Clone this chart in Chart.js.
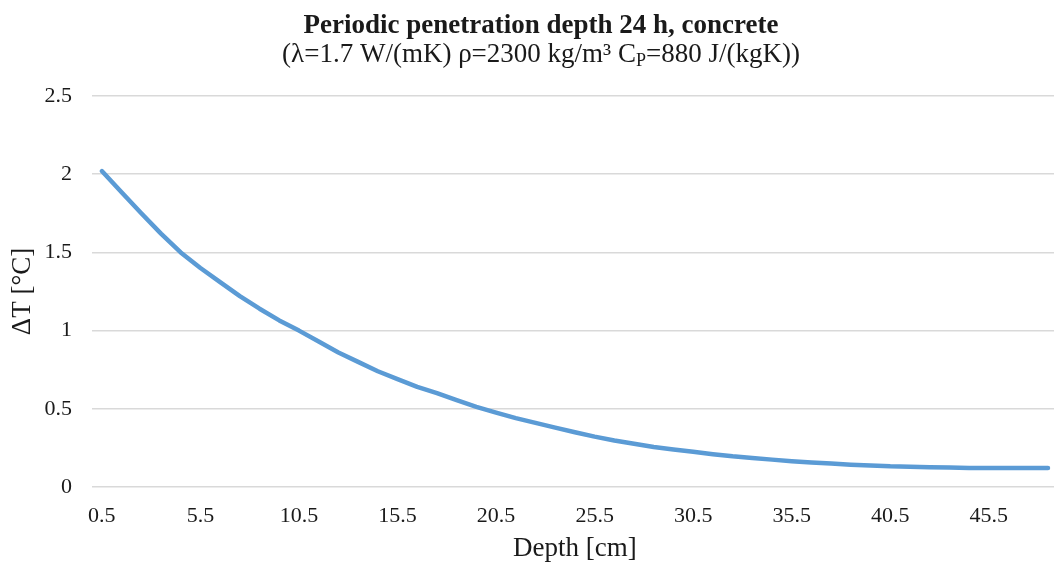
<!DOCTYPE html>
<html>
<head>
<meta charset="utf-8">
<script src="https://cdn.jsdelivr.net/npm/chart.js@4/dist/chart.umd.min.js"></script>
<style>
  html, body { margin: 0; padding: 0; background: #ffffff; overflow: hidden; }
  #wrap { width: 1064px; height: 566px; }
</style>
</head>
<body>
<div id="wrap"><canvas id="chart" width="1064" height="566"></canvas></div>
<script>
// Depth of each sample point [cm]
const depths = [];
for (let d = 0.5; d <= 48.5; d += 1) depths.push(d);

// Temperature amplitude at each depth [°C]
const deltaT = [
  2.02, 1.885, 1.75, 1.62, 1.50, 1.40, 1.31, 1.22, 1.14, 1.065,
  1.00, 0.93, 0.86, 0.80, 0.74, 0.69, 0.64, 0.60, 0.555, 0.512,
  0.475, 0.44, 0.41, 0.38, 0.35, 0.322, 0.297, 0.276, 0.256, 0.24,
  0.225, 0.21, 0.196, 0.185, 0.175, 0.165, 0.157, 0.15, 0.143, 0.137,
  0.132, 0.13, 0.127, 0.125, 0.122, 0.121, 0.121, 0.121, 0.121
];

// Y axis ticks
const yTicks = [0, 0.5, 1, 1.5, 2, 2.5];
// Every fifth depth gets a label
const xLabelStep = 5;

const titleText = 'Periodic penetration depth 24 h, concrete';
const subtitleParts = [
  { t: '(\u03BB=1.7 W/(mK) \u03C1=2300 kg/m\u00B3 C' },
  { t: 'P', sub: true },
  { t: '=880 J/(kgK))' }
];

const SERIF = '"Liberation Serif", "Times New Roman", serif';
const TEXT = '#1a1a1a';

const titlePlugin = {
  id: 'twoLineTitle',
  afterDraw(chart) {
    const ctx = chart.ctx;
    const cx = 541;
    ctx.save();
    ctx.fillStyle = TEXT;
    ctx.textBaseline = 'alphabetic';
    ctx.textAlign = 'left';
    ctx.font = 'bold 27px ' + SERIF;
    const w1 = ctx.measureText(titleText).width;
    ctx.fillText(titleText, cx - w1 / 2, 33);

    const mainFont = '27px ' + SERIF;
    const subFont = '18px ' + SERIF;
    let total = 0;
    subtitleParts.forEach(p => {
      ctx.font = p.sub ? subFont : mainFont;
      p.w = ctx.measureText(p.t).width;
      total += p.w;
    });
    let x = cx - total / 2;
    subtitleParts.forEach(p => {
      ctx.font = p.sub ? subFont : mainFont;
      ctx.fillText(p.t, x, p.sub ? 66 : 62);
      x += p.w;
    });
    ctx.restore();
  }
};

new Chart(document.getElementById('chart'), {
  type: 'line',
  data: {
    labels: depths.map(String),
    datasets: [{
      data: deltaT,
      borderColor: '#5b9bd5',
      borderWidth: 4.5,
      pointRadius: 0,
      tension: 0,
      borderJoinStyle: 'round',
      borderCapStyle: 'round',
      fill: false
    }]
  },
  options: {
    responsive: false,
    animation: false,
    devicePixelRatio: 1,
    layout: { padding: { top: 96, right: 2, bottom: 0, left: 0 } },
    plugins: {
      legend: { display: false },
      tooltip: { enabled: false },
      title: { display: false }
    },
    scales: {
      x: {
        type: 'category',
        offset: true,
        grid: { display: false, drawTicks: false },
        border: { display: false },
        ticks: {
          autoSkip: false,
          maxRotation: 0,
          minRotation: 0,
          padding: 16,
          color: TEXT,
          font: { family: SERIF, size: 22 },
          callback: (v, i) => (i % xLabelStep === 0 ? depths[i].toString() : '')
        },
        title: {
          display: true,
          text: 'Depth [cm]',
          color: TEXT,
          font: { family: SERIF, size: 27 },
          padding: { top: 0, bottom: 1 }
        },
        afterFit: s => { s.height = 79; }
      },
      y: {
        min: 0,
        max: 2.5,
        afterBuildTicks: s => { s.ticks = yTicks.map(v => ({ value: v })); },
        grid: { color: '#d9d9d9', lineWidth: 1.5, drawTicks: false },
        border: { display: false },
        ticks: {
          padding: 20,
          color: TEXT,
          font: { family: SERIF, size: 22 },
          callback: v => String(v)
        },
        title: {
          display: true,
          text: '\u0394T [\u00B0C]',
          color: TEXT,
          font: { family: SERIF, size: 27 },
          padding: { top: 7, bottom: 0 }
        },
        afterFit: s => { s.width = 92; }
      }
    }
  },
  plugins: [titlePlugin]
});
</script>
</body>
</html>
